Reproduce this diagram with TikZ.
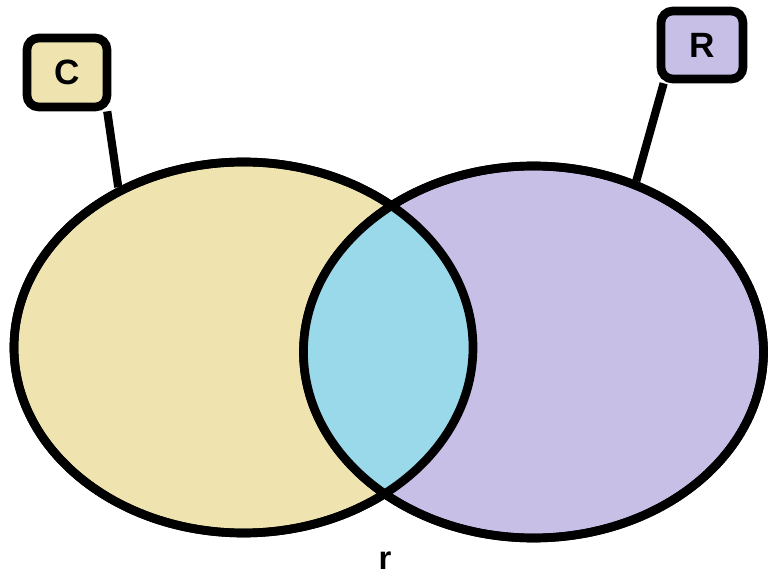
\documentclass[tikz,border=0pt]{standalone}
\usepackage{fontspec}
\setmainfont{Liberation Sans}
\usetikzlibrary{shapes.geometric,backgrounds}
\definecolor{settan}{RGB}{239,228,176}
\definecolor{setlav}{RGB}{200,191,231}
\definecolor{lensblue}{RGB}{153,217,234}

\begin{document}
\begin{tikzpicture}[
    setshape/.style={ellipse, draw, line width=7.4pt, inner sep=0pt},
    labelbox/.style={draw, line width=7.4pt, rounded corners=10pt, inner sep=0pt,
        font=\fontsize{30}{36}\selectfont\bfseries},
    link/.style={line width=7pt}
]
    \useasboundingbox (0,0) rectangle (23.1,17.43);

    % Sets
    \node[setshape, fill=settan, minimum width=13.77cm, minimum height=11.13cm] (cset) at (7.305,7.005) {};
    \node[setshape, fill=setlav, minimum width=13.8cm, minimum height=11.16cm] (rset) at (16.005,6.87) {};

    % Overlap
    \begin{scope}
        \clip (cset.center) ellipse (6.885cm and 5.565cm);
        \fill[lensblue] (rset.center) ellipse (6.9cm and 5.58cm);
    \end{scope}
    \draw[line width=7.4pt] (cset.center) ellipse (6.885cm and 5.565cm);
    \draw[line width=7.4pt] (rset.center) ellipse (6.9cm and 5.58cm);

    % Labels
    \node[labelbox, fill=settan, minimum width=2.4cm, minimum height=2.07cm] (cbox) at (2.01,15.255) {C};
    \node[labelbox, fill=setlav, minimum width=2.46cm, minimum height=2.04cm] (rbox) at (21.06,16.08) {R};
    \node[font=\fontsize{28}{32}\selectfont\bfseries] (rlabel) at (11.55,0.62) {r};

    % Links
    \begin{pgfonlayer}{background}
        \draw[link] (cbox.-44) -- (cset.128);
        \draw[link] (rbox.225) -- (rset.59);
    \end{pgfonlayer}
\end{tikzpicture}
\end{document}
